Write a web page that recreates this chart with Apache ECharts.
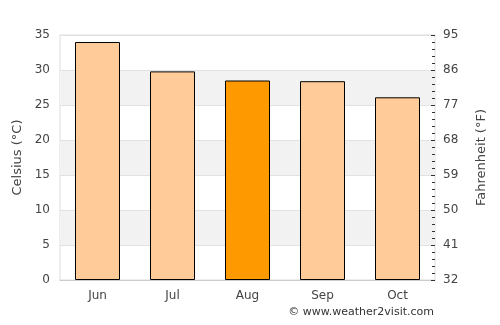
<!DOCTYPE html>
<html>
<head>
<meta charset="utf-8">
<script src="https://cdn.jsdelivr.net/npm/echarts@6/dist/echarts.min.js"></script>
<style>
html,body{margin:0;padding:0;background:#fff;}
#c{width:500px;height:325px;}
</style>
</head>
<body>
<div id="c"></div>
<script>
var months = ['Jun', 'Jul', 'Aug', 'Sep', 'Oct'];
var celsius = [34.0, 29.8, 28.5, 28.4, 26.1];
var highlightMonth = 'Aug';
var celsiusTicks = [0, 5, 10, 15, 20, 25, 30, 35];

var chart = echarts.init(document.getElementById('c'), null, {renderer: 'canvas'});
var FONT = 'DejaVu Sans';
var option = {
  animation: false,
  textStyle: {fontFamily: FONT},
  grid: {left: 60, right: 65, top: 35, bottom: 45, show: true, borderColor: '#dddddd', borderWidth: 1, backgroundColor: 'transparent'},
  xAxis: {
    type: 'category',
    data: months,
    axisLine: {show: true, lineStyle: {color: '#cccccc'}},
    axisTick: {show: false},
    axisLabel: {color: '#444', fontSize: 12, fontFamily: FONT, margin: 10}
  },
  yAxis: [{
    type: 'value',
    min: celsiusTicks[0],
    max: celsiusTicks[celsiusTicks.length - 1],
    interval: 5,
    position: 'left',
    name: 'Celsius (°C)',
    nameLocation: 'middle',
    nameGap: 36,
    nameTextStyle: {color: '#444', fontSize: 13, fontFamily: FONT},
    axisLine: {show: false},
    axisTick: {show: false},
    axisLabel: {color: '#444', fontSize: 12, fontFamily: FONT, margin: 10},
    splitLine: {show: true, lineStyle: {color: '#e2e2e2'}},
    splitArea: {show: true, areaStyle: {color: ['rgba(255,255,255,0)', '#f2f2f2']}}
  }, {
    type: 'value',
    min: celsiusTicks[0],
    max: celsiusTicks[celsiusTicks.length - 1],
    interval: 5,
    position: 'right',
    name: 'Fahrenheit (°F)',
    nameLocation: 'middle',
    nameGap: 40,
    nameRotate: 90,
    nameTextStyle: {color: '#444', fontSize: 13, fontFamily: FONT},
    axisLine: {show: false},
    axisTick: {show: true, inside: true, length: 4, lineStyle: {color: '#333'}},
    minorTick: {show: true, splitNumber: 5, length: 3, lineStyle: {color: '#333'}},
    axisLabel: {color: '#444', fontSize: 12, fontFamily: FONT, margin: 8,
      formatter: function (v) { return Math.round(v * 1.8 + 32); }},
    splitLine: {show: false}
  }],
  series: [{
    type: 'bar',
    barWidth: '60%',
    yAxisIndex: 0,
    data: months.map(function (m, i) {
      return {
        value: celsius[i],
        itemStyle: {color: m === highlightMonth ? '#ff9900' : '#ffcc99', borderColor: '#000', borderWidth: 1}
      };
    })
  }],
  graphic: [{
    type: 'text',
    right: 66,
    top: 307,
    style: {text: '© www.weather2visit.com', fill: '#333', font: '11px ' + FONT}
  }]
};
chart.setOption(option);
</script>
</body>
</html>
